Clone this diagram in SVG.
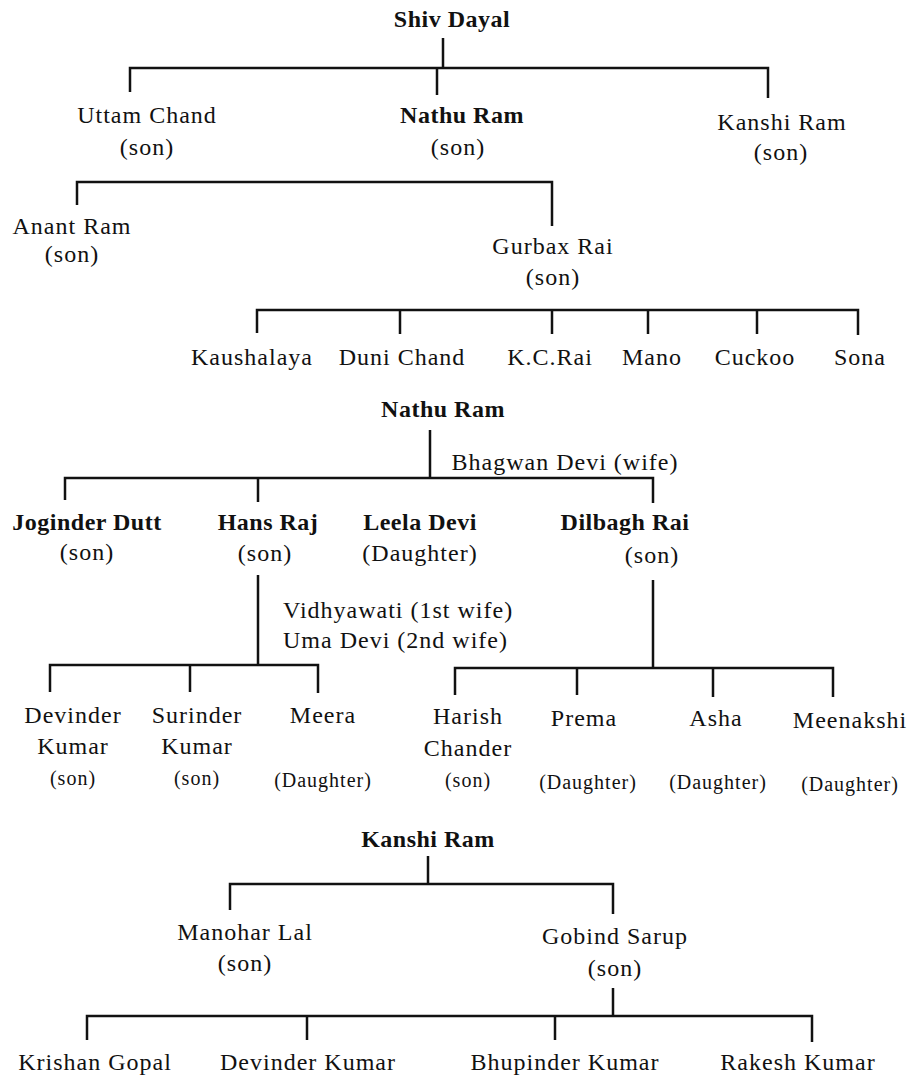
<svg xmlns="http://www.w3.org/2000/svg" width="923" height="1081" viewBox="0 0 923 1081">
<style>
.t{font-family:"Liberation Serif","Times New Roman",serif;font-size:24px;letter-spacing:1px;fill:#111;text-anchor:middle}
.b{font-weight:bold;letter-spacing:0.5px}
.s{font-size:20px}
.l{text-anchor:start}
.c{stroke:#111;stroke-width:2.5;fill:none}
</style>
<rect width="923" height="1081" fill="#fff"/>
<g id="connectors" class="c">
<path d="M443,38 V68 M130,92 V68 H768 V98 M437,68 V95"/>
<path d="M77,205 V182 H552 V226"/>
<path d="M257,333 V310 H858 V335 M400,310 V334 M552,310 V334 M648,310 V334 M757,310 V334"/>
<path d="M430,430 V478 M65,500 V478 H653 V503 M258,478 V502"/>
<path d="M258,575 V665 M50,692 V665 H318 V693 M190,665 V692"/>
<path d="M653,580 V668 M455,695 V668 H833 V697 M577,668 V695 M713,668 V697"/>
<path d="M428,856 V884 M230,910 V884 H613 V914"/>
<path d="M613,988 V1016 M87,1040 V1016 H812 V1042 M307,1016 V1040 M555,1016 V1040"/>
</g>
<g id="shiv-dayal"><text class="t b" x="452" y="27">Shiv Dayal</text></g>
<g id="uttam-chand"><text class="t" x="147" y="123">Uttam Chand</text><text class="t" x="147" y="155">(son)</text></g>
<g id="nathu-ram-top"><text class="t b" x="462" y="123">Nathu Ram</text><text class="t" x="458" y="155">(son)</text></g>
<g id="kanshi-ram-top"><text class="t" x="782" y="130">Kanshi Ram</text><text class="t" x="781" y="160">(son)</text></g>
<g id="anant-ram"><text class="t" x="72" y="234">Anant Ram</text><text class="t" x="72" y="262">(son)</text></g>
<g id="gurbax-rai"><text class="t" x="553" y="254">Gurbax Rai</text><text class="t" x="553" y="285">(son)</text></g>
<g id="kaushalaya"><text class="t" x="252" y="365">Kaushalaya</text></g>
<g id="duni-chand"><text class="t" x="402" y="365">Duni Chand</text></g>
<g id="kc-rai"><text class="t" x="550" y="365">K.C.Rai</text></g>
<g id="mano"><text class="t" x="652" y="365">Mano</text></g>
<g id="cuckoo"><text class="t" x="755" y="365">Cuckoo</text></g>
<g id="sona"><text class="t" x="860" y="365">Sona</text></g>
<g id="nathu-ram"><text class="t b" x="443" y="417">Nathu Ram</text></g>
<g id="bhagwan-devi"><text class="t" x="565" y="470">Bhagwan Devi (wife)</text></g>
<g id="joginder-dutt"><text class="t b" x="87" y="530">Joginder Dutt</text><text class="t" x="87" y="560">(son)</text></g>
<g id="hans-raj"><text class="t b" x="268" y="530">Hans Raj</text><text class="t" x="265" y="561">(son)</text></g>
<g id="leela-devi"><text class="t b" x="420" y="530">Leela Devi</text><text class="t" x="420" y="561">(Daughter)</text></g>
<g id="dilbagh-rai"><text class="t b" x="625" y="530">Dilbagh Rai</text><text class="t" x="652" y="563">(son)</text></g>
<g id="wives"><text class="t l" x="283" y="618">Vidhyawati (1st wife)</text><text class="t l" x="283" y="648">Uma Devi (2nd wife)</text></g>
<g id="devinder-kumar-1"><text class="t" x="73" y="723">Devinder</text><text class="t" x="73" y="754">Kumar</text><text class="t s" x="73" y="785">(son)</text></g>
<g id="surinder-kumar"><text class="t" x="197" y="723">Surinder</text><text class="t" x="197" y="754">Kumar</text><text class="t s" x="197" y="785">(son)</text></g>
<g id="meera"><text class="t" x="323" y="723">Meera</text><text class="t s" x="323" y="787">(Daughter)</text></g>
<g id="harish-chander"><text class="t" x="468" y="724">Harish</text><text class="t" x="468" y="756">Chander</text><text class="t s" x="468" y="787">(son)</text></g>
<g id="prema"><text class="t" x="584" y="726">Prema</text><text class="t s" x="588" y="789">(Daughter)</text></g>
<g id="asha"><text class="t" x="716" y="726">Asha</text><text class="t s" x="718" y="789">(Daughter)</text></g>
<g id="meenakshi"><text class="t" x="850" y="728">Meenakshi</text><text class="t s" x="850" y="791">(Daughter)</text></g>
<g id="kanshi-ram"><text class="t b" x="428" y="847">Kanshi Ram</text></g>
<g id="manohar-lal"><text class="t" x="245" y="940">Manohar Lal</text><text class="t" x="245" y="971">(son)</text></g>
<g id="gobind-sarup"><text class="t" x="615" y="944">Gobind Sarup</text><text class="t" x="615" y="976">(son)</text></g>
<g id="krishan-gopal"><text class="t" x="95" y="1070">Krishan Gopal</text></g>
<g id="devinder-kumar-2"><text class="t" x="308" y="1070">Devinder Kumar</text></g>
<g id="bhupinder-kumar"><text class="t" x="565" y="1070">Bhupinder Kumar</text></g>
<g id="rakesh-kumar"><text class="t" x="798" y="1070">Rakesh Kumar</text></g>
</svg>
